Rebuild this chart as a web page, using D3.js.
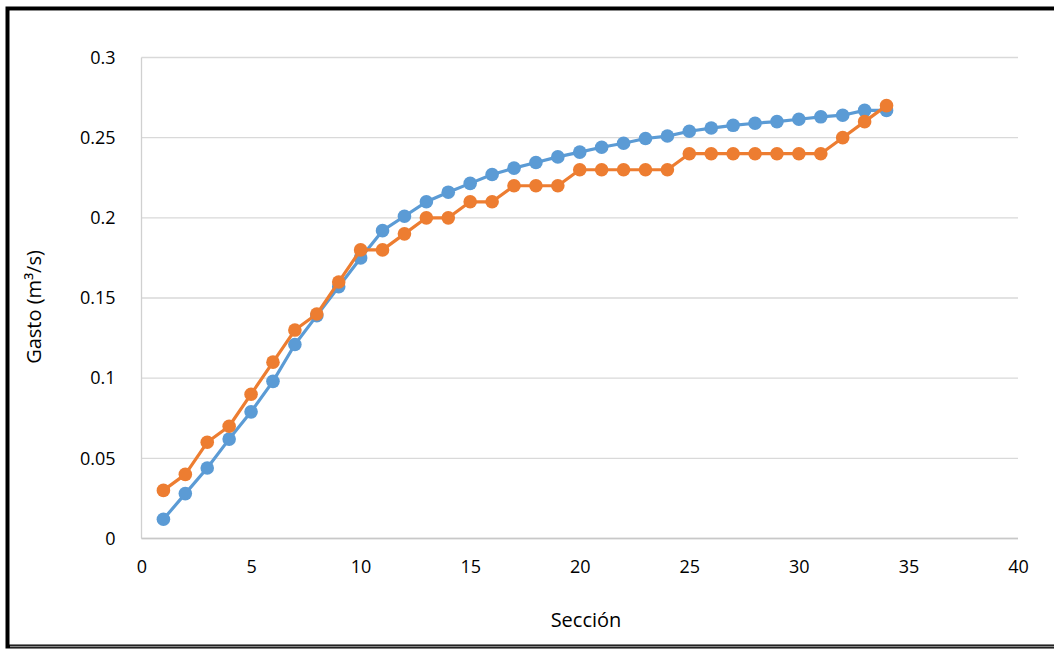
<!DOCTYPE html>
<html><head><meta charset="utf-8">
<script src="https://cdn.jsdelivr.net/npm/d3@7"></script>
<style>body{margin:0;background:#fff}svg{display:block}text{font-family:"Open Sans",sans-serif;fill:#000}</style>
</head><body><svg id="c" width="1054" height="649"></svg>
<script>
const secciones = d3.range(1, 35);
const serieAzul = [0.012,0.028,0.044,0.062,0.079,0.098,0.121,0.139,0.157,0.175,0.192,0.201,0.210,0.216,0.2215,0.227,0.231,0.2345,0.238,0.241,0.244,0.2465,0.2495,0.251,0.254,0.256,0.2577,0.259,0.260,0.2615,0.263,0.264,0.267,0.267];
const serieNaranja = [0.03,0.04,0.06,0.07,0.09,0.11,0.13,0.14,0.16,0.18,0.18,0.19,0.2,0.2,0.21,0.21,0.22,0.22,0.22,0.23,0.23,0.23,0.23,0.23,0.24,0.24,0.24,0.24,0.24,0.24,0.24,0.25,0.26,0.27];
const xTicks = [0,5,10,15,20,25,30,35,40];
const yTicks = [0,0.05,0.1,0.15,0.2,0.25,0.3];

const svg = d3.select("#c");
// outer frame
svg.append("rect").attr("x",7.5).attr("y",8.5).attr("width",1060).attr("height",638).attr("fill","none").attr("stroke","#000").attr("stroke-width",4);
svg.append("line").attr("x1",10).attr("x2",1054).attr("y1",10.5).attr("y2",10.5).attr("stroke","#888").attr("stroke-width",1);
svg.append("line").attr("x1",10).attr("x2",1054).attr("y1",646.5).attr("y2",646.5).attr("stroke","#888").attr("stroke-width",1.5);

const x = d3.scaleLinear().domain([0,40]).range([141.5,1018]);
const y = d3.scaleLinear().domain([0,0.3]).range([538.5,57.5]);

// gridlines
svg.append("g").selectAll("line").data(yTicks).join("line")
  .attr("x1",x(0)).attr("x2",x(40)).attr("y1",d=>y(d)).attr("y2",d=>y(d))
  .attr("stroke","#d9d9d9").attr("stroke-width",1.3);
svg.append("line").attr("x1",x(0)).attr("x2",x(0)).attr("y1",y(0)).attr("y2",y(0.3)).attr("stroke","#d0d0d0").attr("stroke-width",1.3);
svg.append("line").attr("x1",x(0)).attr("x2",x(40)).attr("y1",y(0)).attr("y2",y(0)).attr("stroke","#c8c8c8").attr("stroke-width",1.3);

const yAxis = svg.append("g").attr("transform",`translate(${x(0)-23},0)`)
  .call(d3.axisLeft(y).tickValues(yTicks).tickSize(0).tickFormat(d=>String(d)));
yAxis.select(".domain").remove();
yAxis.selectAll("text").attr("font-size",18).attr("font-family","Open Sans").attr("fill","#000");
const xAxis = svg.append("g").attr("transform",`translate(0,${y(0)+19})`)
  .call(d3.axisBottom(x).tickValues(xTicks).tickSize(0).tickFormat(d=>String(d)));
xAxis.select(".domain").remove();
xAxis.selectAll("text").attr("font-size",18).attr("font-family","Open Sans").attr("fill","#000");

svg.append("text").attr("x",586).attr("y",627).attr("text-anchor","middle").attr("font-size",20).text("Sección");
svg.append("text").attr("transform","translate(41,307) rotate(-90)").attr("text-anchor","middle").attr("font-size",20).text("Gasto (m³/s)");

const series = [{vals:serieAzul,color:"#5B9BD5"},{vals:serieNaranja,color:"#ED7D31"}];
const line = d3.line().x(d=>x(d[0])).y(d=>y(d[1]));
series.forEach(s=>{
  const pts = secciones.map((sec,i)=>[sec,s.vals[i]]);
  svg.append("path").attr("d",line(pts)).attr("fill","none").attr("stroke",s.color).attr("stroke-width",3.2).attr("stroke-linejoin","round");
  svg.append("g").selectAll("circle").data(pts).join("circle")
    .attr("cx",d=>x(d[0])).attr("cy",d=>y(d[1])).attr("r",6.8).attr("fill",s.color);
});
</script></body></html>
